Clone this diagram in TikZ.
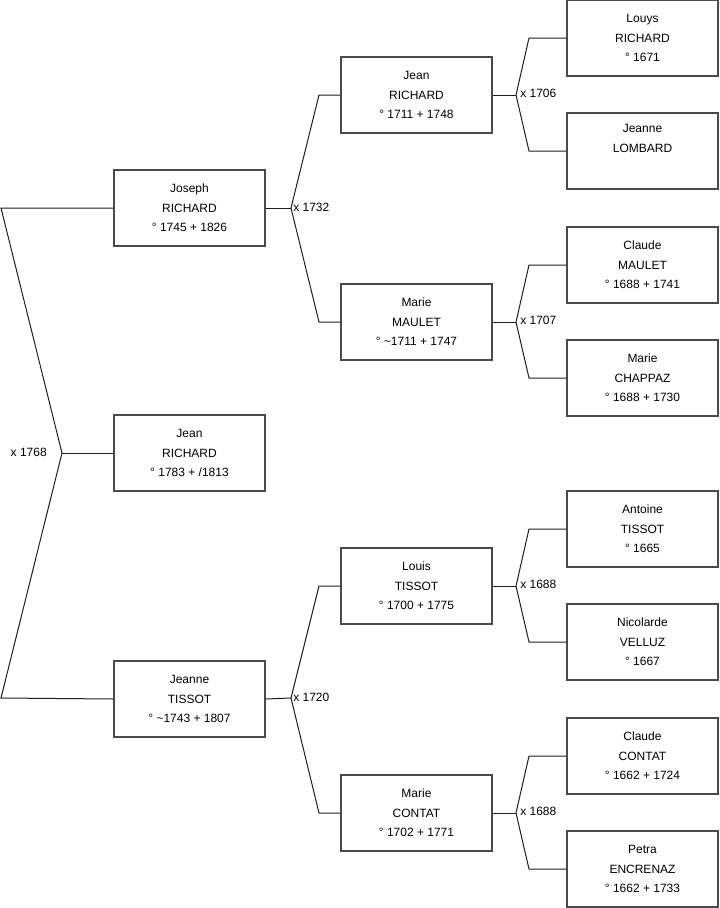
\documentclass[tikz,border=0pt]{standalone}
\usepackage{fontspec}
\setmainfont{Liberation Sans}
\definecolor{treeline}{HTML}{1E1E1E}
\definecolor{treebox}{HTML}{4A4A4A}
\tikzset{
  gt/box/.style={
    draw=treebox, fill=white, line width=0.8pt, align=center,
    minimum width=113.25pt, minimum height=57pt, inner sep=0pt,
    font=\fontsize{9}{14.6}\selectfont
  },
  gt/link/.style={treeline, line width=0.75pt},
  gt/wed/.style={font=\fontsize{9}{11}\selectfont, inner sep=0pt}
}

\begin{document}
\begin{tikzpicture}[x=0.75pt, y=-0.75pt]
  \useasboundingbox (0,0) rectangle (719,908);

  % --- Generation 1 ---
  \node[gt/box] (joseph) at (189.5,208) {Joseph\\RICHARD\\° 1745 + 1826};
  \node[gt/box] (jean)   at (189.5,453) {Jean\\RICHARD\\° 1783 + /1813};
  \node[gt/box] (jeanne) at (189.5,699) {Jeanne\\TISSOT\\° \textasciitilde1743 + 1807};

  % --- Generation 2 ---
  \node[gt/box] (jeanR)   at (416.5,95)  {Jean\\RICHARD\\° 1711 + 1748};
  \node[gt/box] (marieM)  at (416.5,322) {Marie\\MAULET\\° \textasciitilde1711 + 1747};
  \node[gt/box] (louisT)  at (416.5,586) {Louis\\TISSOT\\° 1700 + 1775};
  \node[gt/box] (marieC)  at (416.5,813) {Marie\\CONTAT\\° 1702 + 1771};

  % --- Generation 3 ---
  \node[gt/box] (louys)     at (642.5,38)  {Louys\\RICHARD\\° 1671};
  \node[gt/box] (jeanneL)   at (642.5,151) {Jeanne\\LOMBARD\\\strut};
  \node[gt/box] (claudeM)   at (642.5,265) {Claude\\MAULET\\° 1688 + 1741};
  \node[gt/box] (marieCh)   at (642.5,378) {Marie\\CHAPPAZ\\° 1688 + 1730};
  \node[gt/box] (antoine)   at (642.5,529) {Antoine\\TISSOT\\° 1665};
  \node[gt/box] (nicolarde) at (642.5,642) {Nicolarde\\VELLUZ\\° 1667};
  \node[gt/box] (claudeC)   at (642.5,756) {Claude\\CONTAT\\° 1662 + 1724};
  \node[gt/box] (petra)     at (642.5,869) {Petra\\ENCRENAZ\\° 1662 + 1733};

  % --- fork points ---
  \coordinate (f1)  at (62,453);
  \coordinate (f1a) at (1,208);
  \coordinate (f1b) at (1,698);
  \coordinate (f2)  at (291,208);
  \coordinate (f3)  at (291,698);
  \coordinate (f4)  at (516,95);
  \coordinate (f5)  at (516,322);
  \coordinate (f6)  at (516,586);
  \coordinate (f7)  at (516,813);

  % --- links ---
  \draw[gt/link] (joseph.west) -- (f1a) -- (f1) -- (f1b) -- (jeanne.west);
  \draw[gt/link] (f1) -- (jean.west);

  \draw[gt/link] (joseph.east) -- (f2);
  \draw[gt/link] (f2) -- (319,95) -- (jeanR.west);
  \draw[gt/link] (f2) -- (319,322) -- (marieM.west);
  \draw[gt/link] (jeanne.east) -- (f3);
  \draw[gt/link] (f3) -- (319,586) -- (louisT.west);
  \draw[gt/link] (f3) -- (319,813) -- (marieC.west);

  \draw[gt/link] (jeanR.east) -- (f4);
  \draw[gt/link] (f4) -- (529,38) -- (louys.west);
  \draw[gt/link] (f4) -- (529,151) -- (jeanneL.west);
  \draw[gt/link] (marieM.east) -- (f5);
  \draw[gt/link] (f5) -- (529,265) -- (claudeM.west);
  \draw[gt/link] (f5) -- (529,378) -- (marieCh.west);
  \draw[gt/link] (louisT.east) -- (f6);
  \draw[gt/link] (f6) -- (529,529) -- (antoine.west);
  \draw[gt/link] (f6) -- (529,642) -- (nicolarde.west);
  \draw[gt/link] (marieC.east) -- (f7);
  \draw[gt/link] (f7) -- (529,756) -- (claudeC.west);
  \draw[gt/link] (f7) -- (529,869) -- (petra.west);

  % --- marriages ---
  \node[gt/wed, anchor=east] (m1) at (47,452) {x 1768};
  \node[gt/wed, anchor=west] (m2) at (293,207) {x 1732};
  \node[gt/wed, anchor=west] (m3) at (293,697) {x 1720};
  \node[gt/wed, anchor=west] (m4) at (520,93)  {x 1706};
  \node[gt/wed, anchor=west] (m5) at (520,320) {x 1707};
  \node[gt/wed, anchor=west] (m6) at (520,584) {x 1688};
  \node[gt/wed, anchor=west] (m7) at (520,811) {x 1688};
\end{tikzpicture}
\end{document}
